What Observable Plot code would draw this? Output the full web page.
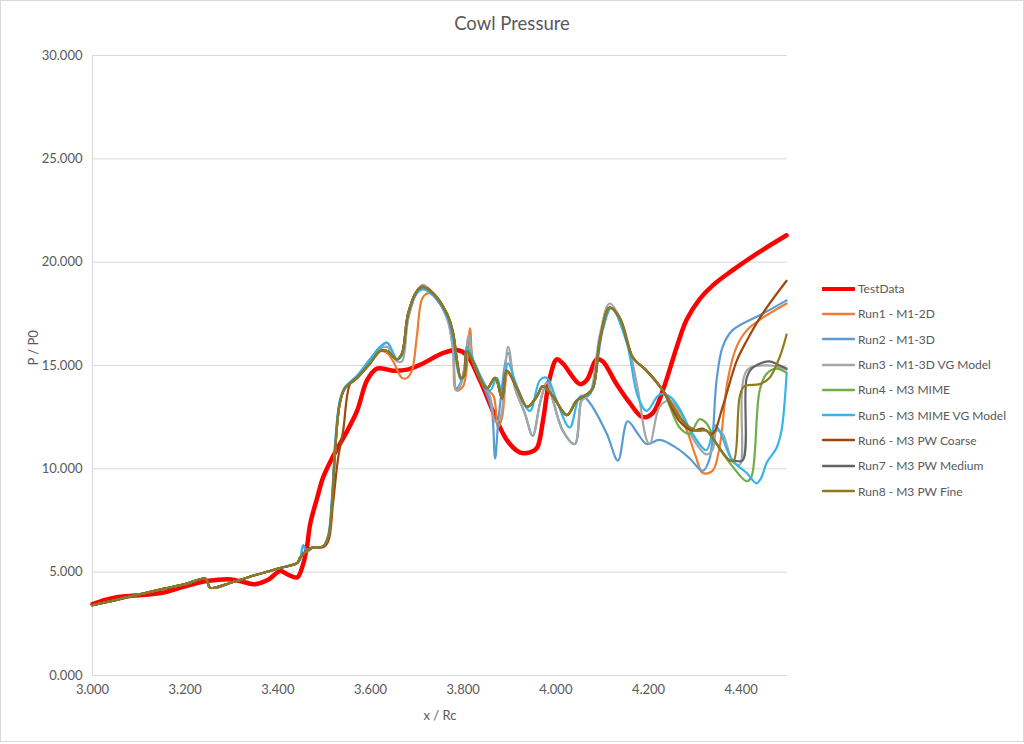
<!DOCTYPE html>
<html><head><meta charset="utf-8">
<script src="https://cdn.jsdelivr.net/npm/d3@7"></script>
<script src="https://cdn.jsdelivr.net/npm/@observablehq/plot@0.6"></script>
<style>
body{margin:0;background:#fff;font-family:Lato,"Open Sans",sans-serif;}
#wrap{position:relative;width:1024px;height:744px;overflow:hidden;}
#frame{position:absolute;left:0;top:0;width:1022px;height:740px;border:1px solid #d9d9d9;pointer-events:none;}
#chart{position:absolute;left:0;top:0;}
#title{position:absolute;left:0;width:1024px;top:12px;text-align:center;font-size:18.5px;color:#595959;}
#legend{position:absolute;left:822px;top:276px;font-size:12px;color:#595959;}
.row{display:flex;align-items:center;height:25.3px;white-space:nowrap;}
.row svg{margin-right:3px;}
</style></head><body>
<div id="wrap"><div id="chart"></div><div id="title">Cowl Pressure</div><div id="legend"></div><div id="frame"></div></div>
<script>
const seriesNames = ["TestData","Run1 - M1-2D","Run2 - M1-3D","Run3 - M1-3D VG Model","Run4 - M3 MIME","Run5 - M3 MIME VG Model","Run6 - M3 PW Coarse","Run7 - M3 PW Medium","Run8 - M3 PW Fine"];
const seriesColors = ["#ff0000","#ed7d31","#5b9bd5","#a5a5a5","#70ad47","#33b4ea","#9e480e","#636363","#8f7a1e"];
const xTicks = [3.0,3.2,3.4,3.6,3.8,4.0,4.2,4.4];
const yTicks = [0,5,10,15,20,25,30];

const testData = [[3.000,3.45],[3.025,3.65],[3.050,3.78],[3.100,3.88],[3.150,4.0],[3.200,4.32],[3.250,4.58],[3.300,4.65],[3.330,4.5],[3.350,4.42],[3.380,4.65],[3.405,5.05],[3.420,4.9],[3.442,4.75],[3.452,5.2],[3.462,6.1],[3.470,7.35],[3.485,8.6],[3.498,9.6],[3.519,10.6],[3.550,11.85],[3.571,12.8],[3.593,14.3],[3.614,14.85],[3.649,14.75],[3.679,14.8],[3.713,15.1],[3.756,15.6],[3.787,15.75],[3.808,15.5],[3.836,14.3],[3.864,12.8],[3.894,11.4],[3.922,10.8],[3.944,10.8],[3.959,11.0],[3.972,12.3],[3.987,14.4],[4.002,15.3],[4.015,15.1],[4.052,14.1],[4.067,14.3],[4.088,15.3],[4.101,15.2],[4.131,14.1],[4.159,13.2],[4.187,12.5],[4.209,12.7],[4.231,13.8],[4.261,15.9],[4.282,17.2],[4.310,18.2],[4.340,18.9],[4.381,19.6],[4.433,20.4],[4.498,21.3]];

const runsStart = [[3.000,3.40],[3.050,3.65],[3.100,3.92],[3.150,4.18],[3.200,4.42],[3.244,4.68],[3.254,4.25],[3.300,4.50],[3.350,4.85],[3.405,5.20],[3.442,5.45]];

const run1 = [[3.448,5.70],[3.463,6.05],[3.476,6.20],[3.498,6.25],[3.509,6.70],[3.517,8.30],[3.524,11.0],[3.534,13.2],[3.545,13.9],[3.571,14.4],[3.599,15.1],[3.621,15.7],[3.636,15.6],[3.649,15.2],[3.668,14.4],[3.679,14.4],[3.690,14.8],[3.700,16.4],[3.713,18.3],[3.728,18.5],[3.750,18.0],[3.765,17.4],[3.778,16.5],[3.785,13.8],[3.800,14.0],[3.815,16.8],[3.821,15.3],[3.851,13.9],[3.866,13.5],[3.875,12.0],[3.884,12.5],[3.897,14.7],[3.916,13.9],[3.938,13.0],[3.959,13.5],[3.972,14.0],[3.994,13.5],[4.024,12.6],[4.045,13.3],[4.067,13.6],[4.080,13.9],[4.095,16.2],[4.116,17.8],[4.138,17.3],[4.166,15.4],[4.196,14.75],[4.231,13.8],[4.256,13.0],[4.282,11.9],[4.302,10.6],[4.317,9.8],[4.338,9.9],[4.353,11.0],[4.371,14.3],[4.390,15.9],[4.412,16.7],[4.446,17.3],[4.498,18.0]];

const run2 = [[3.448,5.6],[3.455,6.3],[3.463,6.0],[3.476,6.2],[3.498,6.25],[3.509,6.8],[3.517,8.6],[3.524,11.3],[3.534,13.3],[3.545,13.95],[3.571,14.5],[3.599,15.3],[3.621,15.9],[3.636,16.1],[3.657,15.3],[3.668,15.5],[3.681,17.3],[3.700,18.5],[3.713,18.7],[3.735,18.4],[3.765,17.3],[3.778,15.8],[3.785,13.9],[3.797,14.3],[3.8125,16.4],[3.821,15.2],[3.851,13.6],[3.862,12.8],[3.869,10.5],[3.877,12.6],[3.897,15.6],[3.912,13.9],[3.933,12.7],[3.950,11.6],[3.966,13.2],[3.981,14.2],[3.994,13.3],[4.015,11.85],[4.041,11.2],[4.058,13.5],[4.073,13.2],[4.110,11.7],[4.134,10.4],[4.155,12.3],[4.177,11.7],[4.196,11.2],[4.224,11.4],[4.261,11.0],[4.289,10.5],[4.317,9.9],[4.332,10.5],[4.347,14.3],[4.360,15.9],[4.381,16.7],[4.446,17.5],[4.498,18.15]];

const run3 = [[3.448,5.7],[3.463,6.05],[3.476,6.2],[3.498,6.25],[3.509,6.7],[3.517,8.3],[3.524,11.0],[3.534,13.2],[3.545,13.9],[3.571,14.4],[3.599,15.2],[3.621,15.8],[3.636,15.9],[3.657,15.2],[3.668,15.2],[3.681,17.2],[3.700,18.6],[3.713,18.9],[3.735,18.5],[3.765,17.3],[3.778,15.8],[3.785,13.8],[3.797,14.2],[3.8125,16.5],[3.821,15.2],[3.858,13.5],[3.869,12.3],[3.879,12.4],[3.897,15.9],[3.912,13.9],[3.933,12.7],[3.950,11.6],[3.966,13.2],[3.981,14.2],[3.994,13.3],[4.015,11.85],[4.041,11.2],[4.056,13.3],[4.073,13.6],[4.095,16.5],[4.116,18.0],[4.144,17.0],[4.175,14.1],[4.196,11.4],[4.203,11.2],[4.224,13.0],[4.246,13.3],[4.282,12.2],[4.295,11.5],[4.325,10.7],[4.338,10.9],[4.347,11.85],[4.360,11.7],[4.381,10.4],[4.397,10.2],[4.412,14.75],[4.461,15.0],[4.498,14.8]];

const run4 = [[3.448,5.70],[3.463,6.05],[3.476,6.20],[3.498,6.25],[3.509,6.70],[3.517,8.30],[3.524,11.0],[3.534,13.2],[3.545,13.9],[3.571,14.4],[3.599,15.1],[3.621,15.7],[3.636,15.7],[3.657,15.3],[3.668,15.6],[3.681,17.5],[3.700,18.6],[3.713,18.8],[3.735,18.5],[3.765,17.5],[3.778,16.6],[3.787,15.2],[3.795,14.4],[3.802,14.5],[3.808,15.7],[3.821,15.2],[3.851,13.9],[3.869,14.4],[3.884,13.4],[3.894,14.75],[3.916,13.9],[3.938,13.0],[3.959,13.5],[3.972,14.0],[3.994,13.5],[4.024,12.6],[4.045,13.3],[4.067,13.6],[4.080,13.9],[4.095,16.2],[4.116,17.8],[4.138,17.3],[4.166,15.4],[4.196,14.75],[4.231,13.8],[4.267,12.0],[4.289,11.7],[4.310,12.4],[4.325,12.2],[4.347,11.2],[4.375,10.3],[4.412,9.4],[4.422,9.6],[4.440,13.8],[4.455,14.6],[4.476,14.85],[4.498,14.65]];

const run5 = [[3.448,5.6],[3.455,6.3],[3.463,6.0],[3.476,6.2],[3.498,6.25],[3.509,6.8],[3.517,8.6],[3.524,11.3],[3.534,13.3],[3.545,13.95],[3.571,14.5],[3.599,15.3],[3.621,15.9],[3.636,16.1],[3.657,15.3],[3.668,15.5],[3.681,17.4],[3.700,18.5],[3.713,18.7],[3.735,18.4],[3.765,17.4],[3.778,16.3],[3.787,14.9],[3.795,14.3],[3.802,14.6],[3.808,15.9],[3.821,15.3],[3.858,13.8],[3.873,14.4],[3.884,13.6],[3.897,15.1],[3.916,14.0],[3.944,12.8],[3.966,14.3],[3.981,14.4],[4.000,13.4],[4.030,12.0],[4.052,13.5],[4.073,13.6],[4.101,16.7],[4.120,17.8],[4.153,16.1],[4.177,13.5],[4.196,12.8],[4.224,13.6],[4.246,13.5],[4.267,12.9],[4.295,11.7],[4.325,10.9],[4.343,12.1],[4.353,11.85],[4.381,10.4],[4.412,9.8],[4.433,9.3],[4.444,9.6],[4.455,10.3],[4.476,11.0],[4.487,11.85],[4.498,14.6]];

const run6 = [[3.448,5.7],[3.463,6.05],[3.476,6.2],[3.498,6.2],[3.509,6.5],[3.519,8.3],[3.530,10.5],[3.541,11.85],[3.556,14.1],[3.571,14.4],[3.599,15.1],[3.621,15.7],[3.636,15.7],[3.657,15.3],[3.668,15.6],[3.681,17.5],[3.700,18.6],[3.713,18.8],[3.735,18.5],[3.765,17.5],[3.778,16.6],[3.787,15.2],[3.795,14.4],[3.802,14.5],[3.808,15.7],[3.821,15.2],[3.851,13.9],[3.869,14.4],[3.884,13.4],[3.894,14.75],[3.916,13.9],[3.938,13.0],[3.959,13.5],[3.972,14.0],[3.994,13.5],[4.024,12.6],[4.045,13.3],[4.067,13.6],[4.080,13.9],[4.095,16.2],[4.116,17.8],[4.138,17.3],[4.166,15.4],[4.196,14.75],[4.231,13.8],[4.267,12.3],[4.295,11.85],[4.317,11.95],[4.338,11.7],[4.360,13.0],[4.390,15.2],[4.412,16.2],[4.446,17.5],[4.498,19.1]];

const run7 = [[3.448,5.70],[3.463,6.05],[3.476,6.20],[3.498,6.25],[3.509,6.70],[3.517,8.30],[3.524,11.0],[3.534,13.2],[3.545,13.9],[3.571,14.4],[3.599,15.1],[3.621,15.7],[3.636,15.7],[3.657,15.3],[3.668,15.6],[3.681,17.5],[3.700,18.6],[3.713,18.8],[3.735,18.5],[3.765,17.5],[3.778,16.6],[3.787,15.2],[3.795,14.4],[3.802,14.5],[3.808,15.7],[3.821,15.2],[3.851,13.9],[3.869,14.4],[3.884,13.4],[3.894,14.75],[3.916,13.9],[3.938,13.0],[3.959,13.5],[3.972,14.0],[3.994,13.5],[4.024,12.6],[4.045,13.3],[4.067,13.6],[4.080,13.9],[4.095,16.2],[4.116,17.8],[4.138,17.3],[4.166,15.4],[4.196,14.75],[4.231,13.8],[4.267,12.5],[4.289,12.0],[4.304,11.85],[4.325,11.85],[4.338,11.5],[4.375,10.4],[4.384,10.4],[4.403,10.4],[4.412,14.4],[4.425,14.9],[4.461,15.2],[4.483,15.0],[4.498,14.85]];

const run8 = [[3.448,5.70],[3.463,6.05],[3.476,6.20],[3.498,6.25],[3.509,6.70],[3.517,8.30],[3.524,11.0],[3.534,13.2],[3.545,13.9],[3.571,14.4],[3.599,15.1],[3.621,15.7],[3.636,15.7],[3.657,15.3],[3.668,15.6],[3.681,17.5],[3.700,18.6],[3.713,18.8],[3.735,18.5],[3.765,17.5],[3.778,16.6],[3.787,15.2],[3.795,14.4],[3.802,14.5],[3.808,15.7],[3.821,15.2],[3.851,13.9],[3.869,14.4],[3.884,13.4],[3.894,14.75],[3.916,13.9],[3.938,13.0],[3.959,13.5],[3.972,14.0],[3.994,13.5],[4.024,12.6],[4.045,13.3],[4.067,13.6],[4.080,13.9],[4.095,16.2],[4.116,17.8],[4.138,17.3],[4.166,15.4],[4.196,14.75],[4.231,13.8],[4.267,12.5],[4.289,12.0],[4.304,11.85],[4.325,11.85],[4.338,11.5],[4.375,10.4],[4.384,10.4],[4.397,13.5],[4.407,14.0],[4.440,14.1],[4.461,14.4],[4.483,15.4],[4.498,16.5]];

const runSeries = [run1, run2, run3, run4, run5, run6, run7, run8];

const testRows = testData.map(([x, y]) => ({series: seriesNames[0], x, y}));
const runRows = runSeries.flatMap((pts, i) =>
  runsStart.concat(pts).map(([x, y]) => ({series: seriesNames[i + 1], x, y})));

const fmt = d3.format(".3f");
const chart = Plot.plot({
  width: 1024, height: 744,
  marginLeft: 92, marginRight: 237, marginTop: 55, marginBottom: 69,
  x: {domain: [3, 4.5]},
  y: {domain: [0, 30]},
  color: {domain: seriesNames, range: seriesColors},
  style: {fontFamily: "Lato, 'Open Sans', sans-serif", fontSize: "13px", color: "#595959", background: "transparent"},
  marks: [
    Plot.gridY(yTicks, {stroke: "#d9d9d9", strokeOpacity: 1, strokeWidth: 1}),
    Plot.ruleX([3], {stroke: "#d9d9d9", strokeWidth: 1}),
    Plot.axisY(yTicks, {tickFormat: fmt, tickSize: 0, tickPadding: 10, label: null, fill: "#595959", fontSize: 13}),
    Plot.axisX(xTicks, {tickFormat: fmt, tickSize: 0, tickPadding: 9, label: null, fill: "#595959", fontSize: 13}),
    Plot.text(["x / Rc"], {frameAnchor: "bottom", lineAnchor: "middle", dy: 40, fill: "#595959", fontSize: 13}),
    Plot.text(["P / P0"], {frameAnchor: "left", rotate: -90, dx: -59, fill: "#595959", fontSize: 13}),
    Plot.line(testRows, {x: "x", y: "y", z: "series", stroke: "series", strokeWidth: 4.5, curve: "catmull-rom", strokeLinecap: "round", strokeLinejoin: "round"}),
    Plot.line(runRows, {x: "x", y: "y", z: "series", stroke: "series", strokeWidth: 2.2, curve: "catmull-rom", strokeLinejoin: "round"})
  ]
});
document.getElementById("chart").appendChild(chart);

const legend = document.getElementById("legend");
seriesNames.forEach((name, i) => {
  const row = document.createElement("div");
  row.className = "row";
  const w = i === 0 ? 4 : 2.5;
  row.innerHTML = `<svg width="33" height="10"><line x1="1" y1="5" x2="32" y2="5" stroke="${seriesColors[i]}" stroke-width="${w}" stroke-linecap="round"/></svg><span>${name}</span>`;
  legend.appendChild(row);
});
</script>
</body></html>
